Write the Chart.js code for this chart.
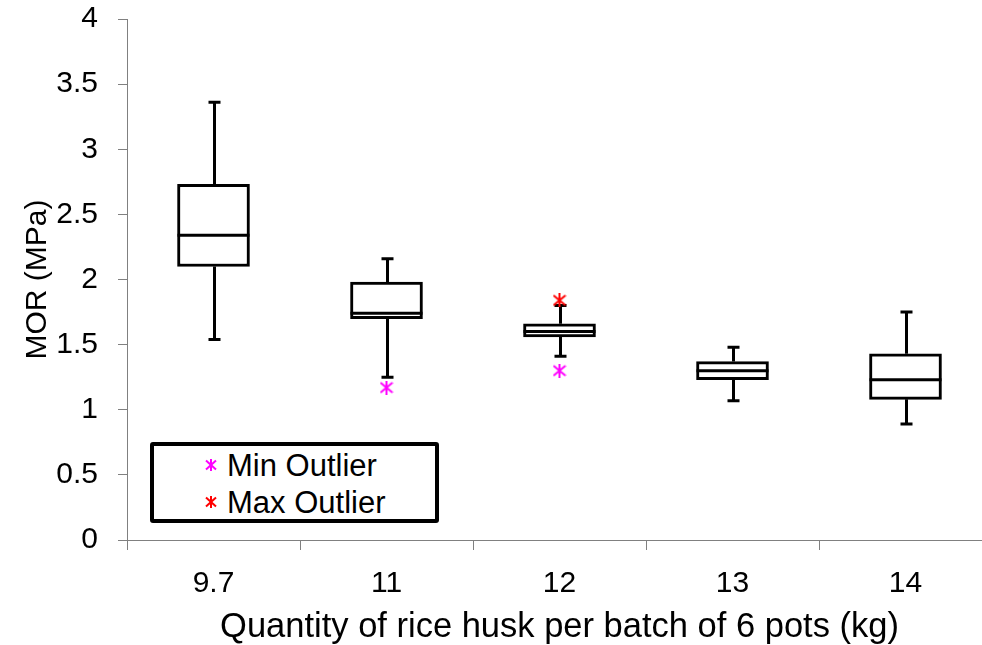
<!DOCTYPE html>
<html>
<head>
<meta charset="utf-8">
<title>MOR vs rice husk quantity</title>
<script src="https://cdn.jsdelivr.net/npm/chart.js@4.4.0/dist/chart.umd.min.js"></script>
<style>
  html, body { margin: 0; padding: 0; background: #fff; overflow: hidden; }
  #wrap { position: relative; width: 982px; height: 645px; overflow: hidden; }
  #chart { position: absolute; left: 0; top: 0; }
  #legend {
    position: absolute; left: 150px; top: 442px; width: 281px; height: 73px;
    border: 4px solid #000; border-radius: 3px; background: #fff;
    font-family: 'Liberation Sans', Arial, sans-serif; font-size: 31px; color: #000;
  }
  #legend .mark { position: absolute; left: 51px; width: 12px; height: 12px; }
  #legend .label { position: absolute; left: 73px; line-height: 31px; white-space: nowrap; }
</style>
</head>
<body>
<div id="wrap">
  <canvas id="chart" width="1000" height="645"></canvas>
  <div id="legend">
    <svg class="mark" style="top:13px" viewBox="0 0 12 12"><g stroke="#ff00ff" stroke-width="2"><line x1="6" y1="0" x2="6" y2="12"/><line x1="1" y1="1.5" x2="11" y2="10.5"/><line x1="11" y1="1.5" x2="1" y2="10.5"/></g></svg>
    <span class="label" style="top:4px">Min Outlier</span>
    <svg class="mark" style="top:50px" viewBox="0 0 12 12"><g stroke="#ff0000" stroke-width="2"><line x1="6" y1="0" x2="6" y2="12"/><line x1="1" y1="1.5" x2="11" y2="10.5"/><line x1="11" y1="1.5" x2="1" y2="10.5"/></g></svg>
    <span class="label" style="top:41px">Max Outlier</span>
  </div>
</div>
<script>
// Rice husk quantity per batch (kg) and the MOR box-plot statistics (MPa)
const categories   = ['9.7', '11', '12', '13', '14'];
const whiskerLow   = [1.54, 1.25, 1.41, 1.07, 0.89];
const quartile1    = [2.10, 1.70, 1.56, 1.23, 1.08];
const medians      = [2.34, 1.74, 1.60, 1.30, 1.23];
const quartile3    = [2.73, 1.98, 1.66, 1.37, 1.43];
const whiskerHigh  = [3.36, 2.16, 1.80, 1.48, 1.75];
const minOutliers  = [null, 1.17, 1.30, null, null];
const maxOutliers  = [null, null, 1.84, null, null];
const yTickStep = 0.5;

const FONT = "'Liberation Sans', Arial, sans-serif";

// Asterisk marker used for the outlier points
function asterisk(color, size) {
  const c = document.createElement('canvas');
  c.width = size; c.height = size;
  const g = c.getContext('2d');
  g.strokeStyle = color; g.lineWidth = 2;
  const m = size / 2, r = size / 2 - 1;
  g.beginPath();
  g.moveTo(m, 0); g.lineTo(m, size);
  g.moveTo(m - r, m - r * 0.85); g.lineTo(m + r, m + r * 0.85);
  g.moveTo(m + r, m - r * 0.85); g.lineTo(m - r, m + r * 0.85);
  g.stroke();
  return c;
}

// Whiskers behind the boxes, median lines on top of them
const boxWhiskers = {
  id: 'boxWhiskers',
  beforeDatasetsDraw(chart) {
    const { ctx, scales: { x, y } } = chart;
    ctx.save();
    ctx.strokeStyle = '#000';
    ctx.lineWidth = 3;
    ctx.lineCap = 'butt';
    categories.forEach((c, i) => {
      const px = Math.round(x.getPixelForValue(i)) + 0.5;
      const yLo = y.getPixelForValue(whiskerLow[i]);
      const yHi = y.getPixelForValue(whiskerHigh[i]);
      const yQ1 = y.getPixelForValue(quartile1[i]);
      const yQ3 = y.getPixelForValue(quartile3[i]);
      ctx.beginPath();
      ctx.moveTo(px, yQ3); ctx.lineTo(px, yHi);
      ctx.moveTo(px, yQ1); ctx.lineTo(px, yLo);
      ctx.moveTo(px - 6, yHi); ctx.lineTo(px + 6, yHi);
      ctx.moveTo(px - 6, yLo); ctx.lineTo(px + 6, yLo);
      ctx.stroke();
    });
    ctx.restore();
  },
  afterDatasetsDraw(chart) {
    const { ctx, scales: { y } } = chart;
    const meta = chart.getDatasetMeta(0);
    ctx.save();
    ctx.strokeStyle = '#000';
    ctx.lineWidth = 3;
    meta.data.forEach((bar, i) => {
      const py = y.getPixelForValue(medians[i]);
      ctx.beginPath();
      ctx.moveTo(bar.x - bar.width / 2, py);
      ctx.lineTo(bar.x + bar.width / 2, py);
      ctx.stroke();
    });
    ctx.restore();
  }
};

new Chart(document.getElementById('chart'), {
  type: 'bar',
  data: {
    labels: categories,
    datasets: [
      {
        label: 'Box',
        data: categories.map((c, i) => [quartile1[i], quartile3[i]]),
        backgroundColor: '#fff',
        borderColor: '#000',
        borderWidth: 3,
        borderSkipped: false,
        barThickness: 72,
        order: 2
      },
      {
        type: 'line',
        label: 'Min Outlier',
        data: minOutliers,
        showLine: false,
        pointStyle: asterisk('#ff00ff', 14),
        order: 1
      },
      {
        type: 'line',
        label: 'Max Outlier',
        data: maxOutliers,
        showLine: false,
        pointStyle: asterisk('#ff0000', 14),
        order: 1
      }
    ]
  },
  options: {
    responsive: false,
    animation: false,
    events: [],
    layout: { padding: { top: 19, right: 8, left: 0, bottom: 0 } },
    plugins: { legend: { display: false }, tooltip: { enabled: false } },
    scales: {
      x: {
        offset: true,
        grid: { offset: true, drawOnChartArea: false, drawTicks: true, tickLength: 10, color: '#808080', lineWidth: 1 },
        border: { display: true, color: '#808080', width: 1 },
        ticks: { font: { family: FONT, size: 30 }, color: '#000', padding: 16, maxRotation: 0 },
        title: {
          display: true,
          text: 'Quantity of rice husk per batch of 6 pots (kg)',
          font: { family: FONT, size: 34.5, lineHeight: 1.0 },
          color: '#000',
          padding: { top: 0, bottom: 0 }
        },
        afterFit(scale) { scale.height = 105; }
      },
      y: {
        min: 0,
        max: 4,
        ticks: {
          stepSize: yTickStep,
          font: { family: FONT, size: 30 },
          color: '#000',
          padding: 20,
          callback: (v) => String(Number(v.toFixed(1)))
        },
        grid: { drawOnChartArea: false, drawTicks: true, tickLength: 9, color: '#808080', lineWidth: 1 },
        border: { display: true, color: '#808080', width: 1 },
        title: {
          display: true,
          text: 'MOR (MPa)',
          font: { family: FONT, size: 30 },
          color: '#000',
          padding: { top: 20, bottom: 0 }
        },
        afterFit(scale) {
          scale.width = 127;
          scale.paddingTop = 0;
          scale.paddingBottom = 0;
        }
      }
    }
  },
  plugins: [boxWhiskers]
});
</script>
</body>
</html>
